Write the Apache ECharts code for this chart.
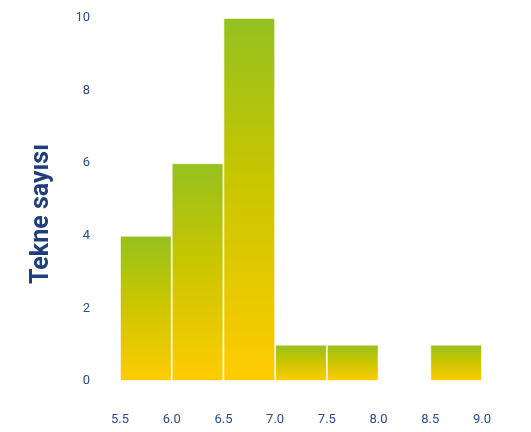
<!DOCTYPE html>
<html><head><meta charset="utf-8">
<script src="https://cdn.jsdelivr.net/npm/echarts@6/dist/echarts.min.js"></script>
<style>html,body{margin:0;padding:0;background:#fff}#c{width:531px;height:432px}</style>
</head><body><div id="c"></div>
<script>
var binStarts = [5.5, 6.0, 6.5, 7.0, 7.5, 8.0, 8.5];
var binEnds   = [6.0, 6.5, 7.0, 7.5, 8.0, 8.5, 9.0];
var counts    = [4, 6, 10, 1, 1, 0, 1];
var xTicks = ['5.5','6.0','6.5','7.0','7.5','8.0','8.5','9.0'];
var yTitle = 'Tekne sayısı';

var data = binStarts.map(function(s,i){return [s, binEnds[i], counts[i]];}).filter(function(d){return d[2]>0;});
var chart = echarts.init(document.getElementById('c'));
chart.setOption({
  animation:false,
  grid:{left:120,right:49,top:18,bottom:51},
  xAxis:{type:'value',min:5.5,max:9.0,interval:0.5,
    axisLine:{show:false},axisTick:{show:false},splitLine:{show:false},
    axisLabel:{margin:32,color:'#2b4c8c',fontSize:13,fontFamily:'Roboto',
      formatter:function(v){return v.toFixed(1);}}},
  yAxis:{type:'value',min:0,max:10,interval:2,
    axisLine:{show:false},axisTick:{show:false},splitLine:{show:false},
    axisLabel:{margin:30,color:'#2b4c8c',fontSize:13,fontFamily:'Roboto'}},
  graphic:[{type:'text',x:42,y:214,rotation:Math.PI/2,
    style:{text:yTitle,fill:'#1e3f7a',font:'bold 25px Roboto',textAlign:'center',textVerticalAlign:'middle'}}],
  series:[{type:'custom',data:data,
    renderItem:function(params,api){
      var p0=api.coord([api.value(0),api.value(2)]);
      var p1=api.coord([api.value(1),0]);
      return {type:'rect',shape:{x:p0[0]+0.5,y:p0[1]+0.5,width:p1[0]-p0[0]-1,height:p1[1]-p0[1]-1},
        style:{fill:new echarts.graphic.LinearGradient(0,0,0,1,[
          {offset:0,color:'#95c11f'},{offset:0.45,color:'#c8c600'},{offset:1,color:'#ffcc00'}]),
          stroke:'rgba(255,255,255,0.55)',lineWidth:1}};
    }}]
});
</script></body></html>
